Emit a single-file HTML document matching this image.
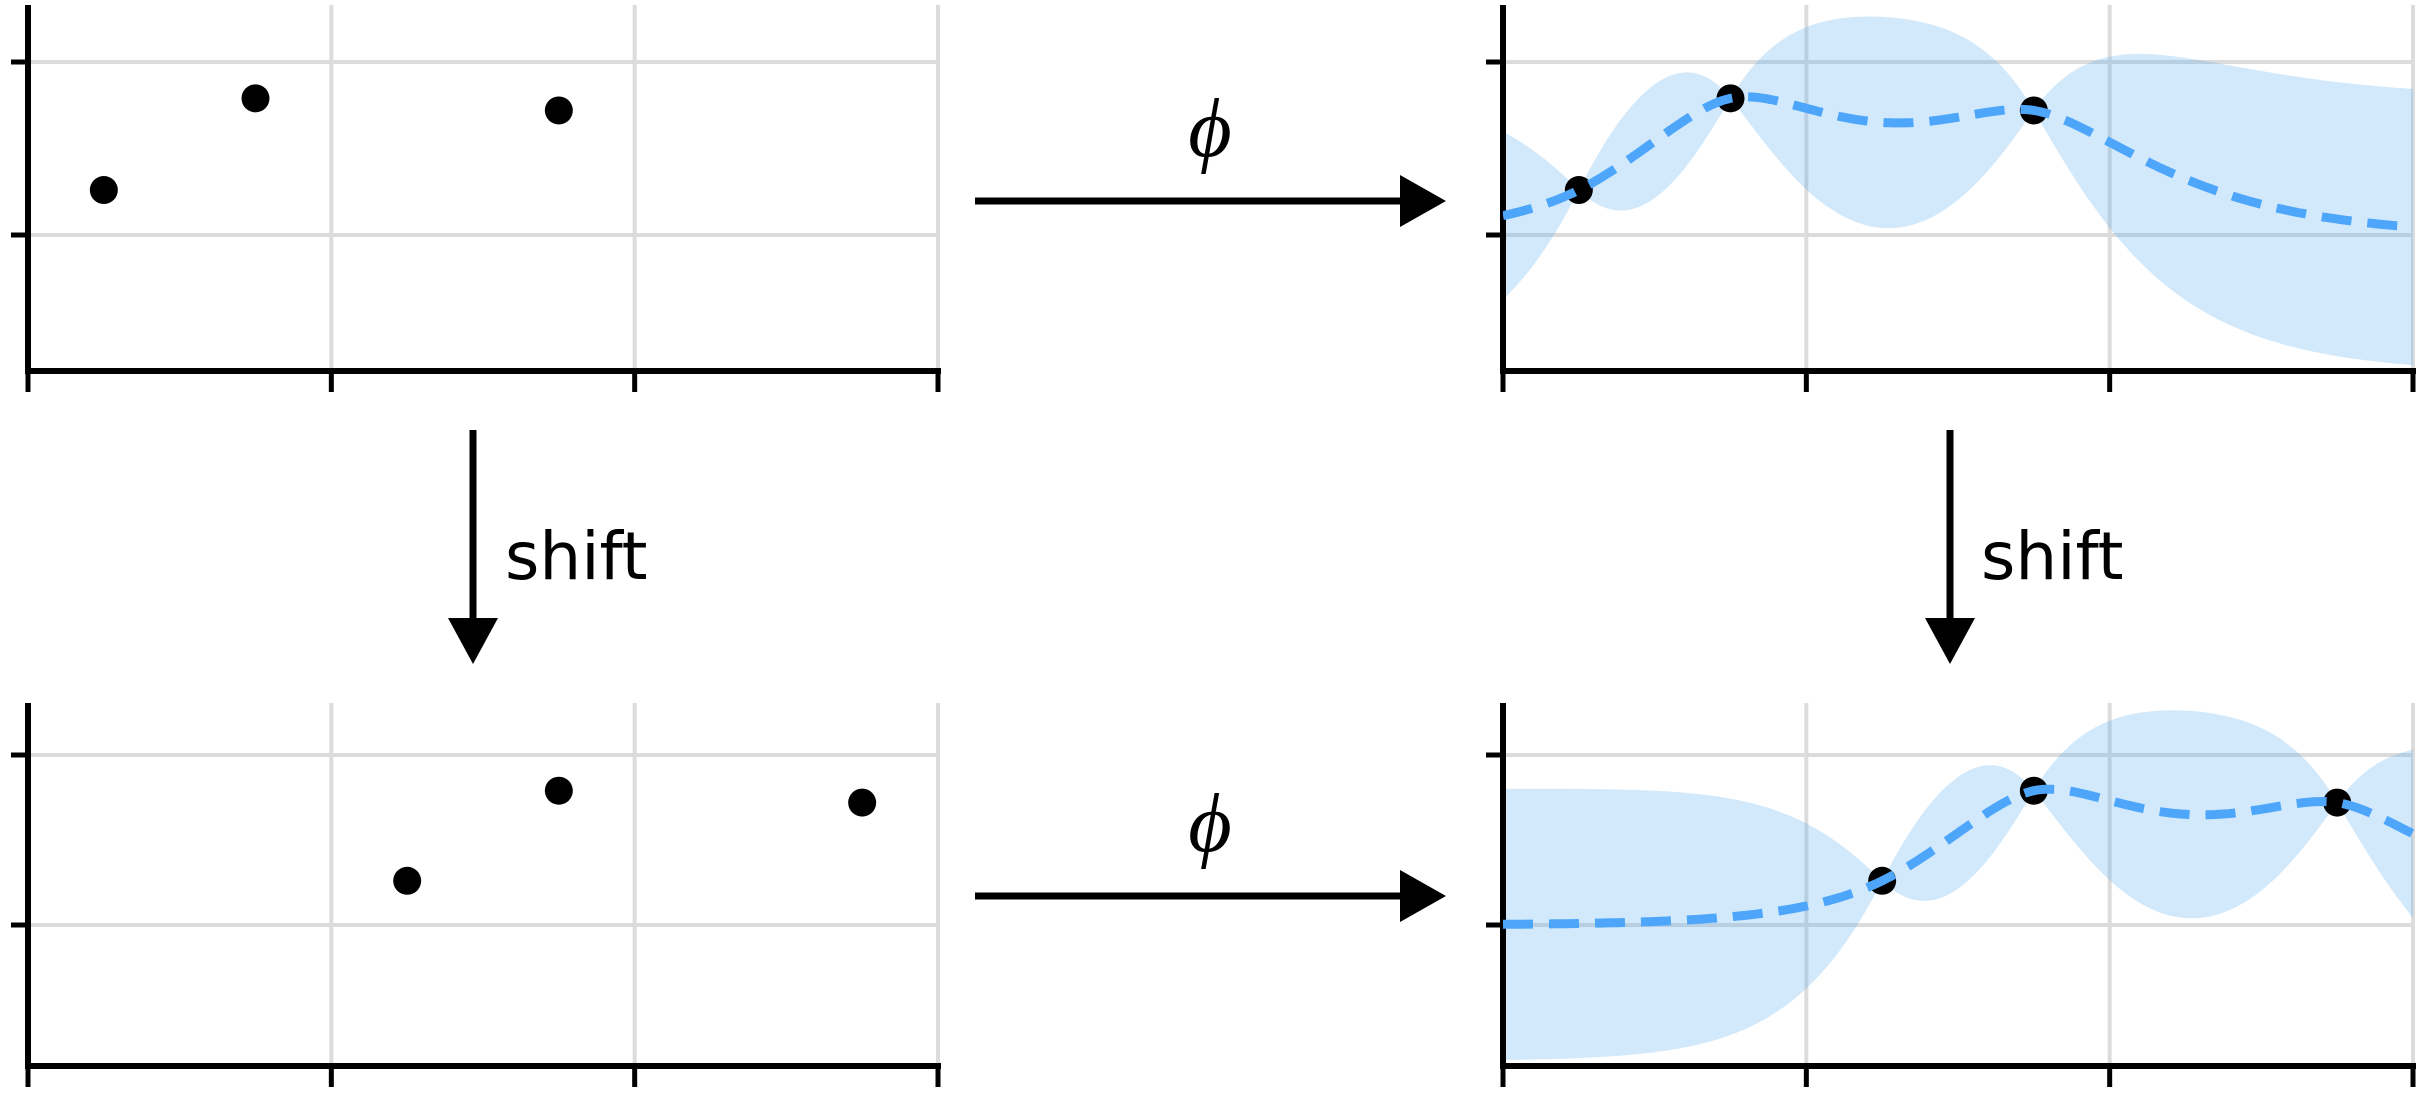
<!DOCTYPE html>
<html><head><meta charset="utf-8"><style>
html,body{margin:0;padding:0;background:#fff;}
svg{display:block;}
</style></head><body>
<svg id="fig" width="2422" height="1096" viewBox="0 0 2422 1096" xmlns="http://www.w3.org/2000/svg">
<defs>
<clipPath id="clipTR"><rect x="1503" y="0" width="912" height="372"/></clipPath>
<clipPath id="clipBR"><rect x="1503" y="690" width="912" height="378"/></clipPath>
</defs>
<g id="arrows">
  <g>
    <line x1="975" y1="201" x2="1405" y2="201" stroke="#000" stroke-width="7"/>
    <polygon points="1400,175 1446,201 1400,227" fill="#000"/>
    <text x="1210" y="156" font-family="Liberation Serif, serif" font-style="italic" font-size="84" text-anchor="middle">ϕ</text>
  </g>
  <g>
    <line x1="975" y1="896" x2="1405" y2="896" stroke="#000" stroke-width="7"/>
    <polygon points="1400,870 1446,896 1400,922" fill="#000"/>
    <text x="1210" y="851" font-family="Liberation Serif, serif" font-style="italic" font-size="84" text-anchor="middle">ϕ</text>
  </g>
  <g>
    <line x1="473" y1="430" x2="473" y2="622" stroke="#000" stroke-width="7"/>
    <polygon points="448,618 473,664 498,618" fill="#000"/>
    <text x="505" y="579" font-family="DejaVu Sans, sans-serif" font-size="66">shift</text>
  </g>
  <g>
    <line x1="1950" y1="430" x2="1950" y2="622" stroke="#000" stroke-width="7"/>
    <polygon points="1925,618 1950,664 1975,618" fill="#000"/>
    <text x="1981" y="579" font-family="DejaVu Sans, sans-serif" font-size="66">shift</text>
  </g>
</g>
</svg>
<script>
// Data
const obsX = [0.25, 0.75, 1.75];
const obsY = [0.26, 0.79, 0.72];
const shiftAmount = 1;
const xTicks = [0, 1, 2, 3];
const yTicks = [0, 1];
const kernelLengthscale = [0.5];
const kernelStd = [0.4];

const NS = 'http://www.w3.org/2000/svg';
const svg = document.getElementById('fig');

function mk(tag, attrs, parent){
  const e = document.createElementNS(NS, tag);
  for (const k in attrs) e.setAttribute(k, attrs[k]);
  (parent||svg).appendChild(e);
  return e;
}

function makePanel(left, zeroY, unitY, axisTop, axisBottom){
  const unitX = (938-28)/3;
  return {
    left, zeroY, unitY, axisTop, axisBottom,
    sx: v => left + v*unitX,
    sy: v => zeroY - v*unitY
  };
}
const panels = {
  tl: makePanel(28, 235, 173, 5, 371),
  tr: makePanel(1503, 235, 173, 5, 371),
  bl: makePanel(28, 925, 170, 703, 1066),
  br: makePanel(1503, 925, 170, 703, 1066)
};

function drawAxes(p, name){
  const g = mk('g', {});
  
  
  xTicks.slice(1).forEach(t => {
    const l = mk('line', {x1:p.sx(t), x2:p.sx(t), y1:p.axisTop, y2:p.axisBottom, stroke:'#dcdcdc', 'stroke-width':4}, g);
    
    
  });
  yTicks.forEach(t => {
    const l = mk('line', {x1:p.left, x2:p.sx(3), y1:p.sy(t), y2:p.sy(t), stroke:'#dcdcdc', 'stroke-width':4}, g);
    
    
  });
  return g;
}
function drawFrame(p, name){
  const g = mk('g', {});
  
  
  mk('line', {x1:p.left, x2:p.left, y1:p.axisTop, y2:p.axisBottom+3, stroke:'#000','stroke-width':6}, g);
  mk('line', {x1:p.left-3, x2:p.sx(3)+3, y1:p.axisBottom, y2:p.axisBottom, stroke:'#000','stroke-width':6}, g);
  xTicks.forEach(t => {
    const l = mk('line', {x1:p.sx(t), x2:p.sx(t), y1:p.axisBottom, y2:p.axisBottom+21, stroke:'#000','stroke-width':5}, g);
    
    
  });
  yTicks.forEach(t => {
    const l = mk('line', {x1:p.left-17, x2:p.left, y1:p.sy(t), y2:p.sy(t), stroke:'#000','stroke-width':5}, g);
    
    
  });
}
function drawPoints(p, xs, ys, name){
  const g = mk('g', {});
  
  
  xs.forEach((x,i) => {
    const c = mk('circle', {cx:p.sx(x), cy:p.sy(ys[i]), r:14, fill:'#000'}, g);
    
    
  });
}

function solve(A, b){
  const n=b.length, M=A.map((r,i)=>r.concat([b[i]]));
  for(let i=0;i<n;i++){
    let p=i; for(let j=i+1;j<n;j++) if(Math.abs(M[j][i])>Math.abs(M[p][i])) p=j;
    [M[i],M[p]]=[M[p],M[i]];
    for(let j=i+1;j<n;j++){const f=M[j][i]/M[i][i]; for(let k=i;k<=n;k++) M[j][k]-=f*M[i][k];}
  }
  const x=new Array(n);
  for(let i=n-1;i>=0;i--){let s=M[i][n]; for(let k=i+1;k<n;k++) s-=M[i][k]*x[k]; x[i]=s/M[i][i];}
  return x;
}
function gp(xs, ys, q){
  const l=kernelLengthscale[0], s2=kernelStd[0]**2;
  const k=(a,b)=>{const r=Math.sqrt(3)*Math.abs(a-b)/l; return s2*(1+r)*Math.exp(-r);};
  const K=xs.map(a=>xs.map(b=>k(a,b)+(a===b?1e-5:0)));
  const alpha=solve(K, ys);
  return q.map(x=>{
    const ks=xs.map(a=>k(a,x));
    const mean=ks.reduce((s,v,i)=>s+v*alpha[i],0);
    const v=solve(K, ks);
    const vr=Math.max(s2-ks.reduce((s,vv,i)=>s+vv*v[i],0),0);
    return {x, mean, sd:Math.sqrt(vr)};
  });
}
function drawGP(p, xs, ys, name, clip){
  const q=[]; for(let i=0;i<=300;i++) q.push(3*i/300);
  const post=gp(xs, ys, q);
  const g = mk('g', {'clip-path':'url(#'+clip+')'});
  
  
  const up=post.map(o=>p.sx(o.x).toFixed(1)+','+p.sy(o.mean+2*o.sd).toFixed(1));
  const lo=post.slice().reverse().map(o=>p.sx(o.x).toFixed(1)+','+p.sy(o.mean-2*o.sd).toFixed(1));
  const band=mk('polygon', {points:up.concat(lo).join(' '), fill:'rgba(77,166,240,0.25)'}, g);
  
  
  return {g, post};
}
function drawMean(p, post, g){
  const d=post.map((o,i)=>(i?'L':'M')+p.sx(o.x).toFixed(1)+','+p.sy(o.mean).toFixed(1)).join(' ');
  const m=mk('path', {d, fill:'none', stroke:'#4da6fa','stroke-width':9,'stroke-dasharray':'30,16'}, g);
  
  
}

const arrowsG = document.getElementById('arrows');
const shiftedX = obsX.map(x=>x+shiftAmount);

drawAxes(panels.tl,'top-left'); drawFrame(panels.tl,'top-left'); drawPoints(panels.tl, obsX, obsY, 'top-left');
drawAxes(panels.bl,'bottom-left'); drawFrame(panels.bl,'bottom-left'); drawPoints(panels.bl, shiftedX, obsY, 'bottom-left');
drawAxes(panels.tr,'top-right');
const tr = drawGP(panels.tr, obsX, obsY, 'top-right', 'clipTR');
drawFrame(panels.tr,'top-right');
drawPoints(panels.tr, obsX, obsY, 'top-right');
const mt = mk('g', {'clip-path':'url(#clipTR)'});
drawMean(panels.tr, tr.post, mt);
drawAxes(panels.br,'bottom-right');
const br = drawGP(panels.br, shiftedX, obsY, 'bottom-right', 'clipBR');
drawFrame(panels.br,'bottom-right');
drawPoints(panels.br, shiftedX, obsY, 'bottom-right');
const mg = mk('g', {'clip-path':'url(#clipBR)'});
drawMean(panels.br, br.post, mg);
svg.appendChild(arrowsG);
</script>
</body></html>
